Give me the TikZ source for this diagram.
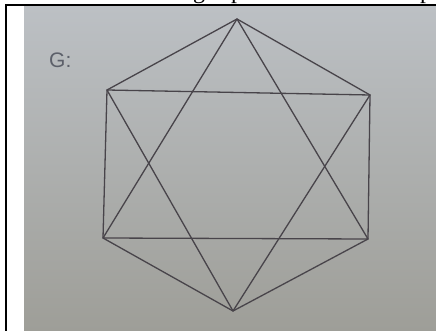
\documentclass[tikz,border=0pt]{standalone}
\usepackage{fontspec}
\setmainfont{Liberation Serif}
\newfontfamily\labelfont{Liberation Sans}
\definecolor{papertop}{RGB}{188,192,196}
\definecolor{paperbot}{RGB}{158,158,152}
\definecolor{inkgray}{RGB}{72,68,74}
\definecolor{labelgray}{RGB}{92,96,106}
\begin{document}
\begin{tikzpicture}[
    x=1pt, y=-1pt,
    edge/.style ={draw=inkgray, line width=1.3pt, line cap=round, line join=round},
    glabel/.style={font=\labelfont\fontsize{21}{21}\selectfont, text=labelgray, inner sep=0pt, anchor=base west},
    cuttext/.style={font=\fontsize{24}{24}\selectfont, inner sep=0pt, anchor=base},
]
\useasboundingbox (0,0) rectangle (436,331);
\clip (0,0) rectangle (436,331);
\fill[white] (0,0) rectangle (436,331);
\shade[top color=papertop, bottom color=paperbot] (24,7) rectangle (436,331);

% clipped line of text above the frame
\node[cuttext] (g1) at (199,-1) {g};
\node[cuttext] (p1) at (237,-1) {p};
\node[cuttext] (p2) at (426,-1) {p};

% frame
\draw[line width=2pt] (6,331) -- (6,5) -- (436,5);

\node[glabel] (lab) at (49,68) {G:};

% vertices
\coordinate (t)  at (237,19);
\coordinate (ul) at (107,90);
\coordinate (ur) at (370,95);
\coordinate (ll) at (103,238);
\coordinate (lr) at (368,239);
\coordinate (b)  at (233,311);

% hexagon
\draw[edge] (t) -- (ul) -- (ll) -- (b) -- (lr) -- (ur) -- cycle;
% triangles
\draw[edge] (t) -- (ll) -- (lr) -- cycle;
\draw[edge] (b) -- (ul) -- (ur) -- cycle;

\end{tikzpicture}
\end{document}
